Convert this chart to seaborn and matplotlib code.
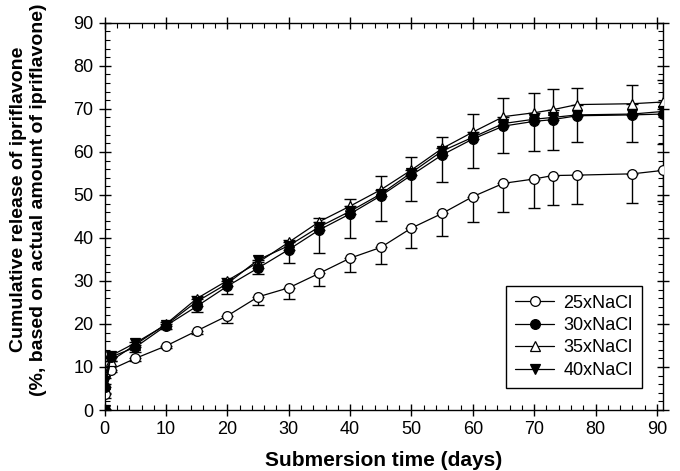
import numpy as np
import pandas as pd
import matplotlib
matplotlib.use("Agg")
import matplotlib.pyplot as plt
import seaborn as sns
from matplotlib.ticker import MultipleLocator

# submersion time (days)
days = [0, 0.08, 1, 5, 10, 15, 20, 25, 30, 35, 40, 45, 50, 55, 60, 65, 70, 73, 77, 86, 91]

nacl25 = [0, 3.7, 9.4, 12.0, 14.9, 18.4, 21.9, 26.3, 28.4, 31.8, 35.3, 37.8,
          42.3, 45.7, 49.6, 52.7, 53.7, 54.5, 54.6, 54.9, 55.7]
nacl30 = [0, 5.4, 12.3, 14.6, 19.6, 24.1, 28.8, 33.0, 37.3, 41.9, 45.6, 49.8,
          54.6, 59.3, 63.0, 66.0, 67.1, 67.5, 68.4, 68.6, 68.8]
nacl35 = [0, 6.0, 11.4, 15.2, 20.0, 25.9, 30.1, 34.3, 39.0, 43.8, 47.4, 51.2,
          55.8, 60.8, 64.6, 68.2, 69.1, 69.8, 71.0, 71.2, 71.6]
nacl40 = [0, 6.8, 12.6, 15.6, 19.8, 25.2, 29.4, 34.9, 38.2, 42.6, 46.2, 50.2,
          55.2, 60.2, 63.4, 66.6, 67.6, 68.0, 68.6, 68.8, 69.4]

# error bars (one sided as in the original figure)
err25_down = [0, 1.0, 0.5, 0.6, 0.6, 0.8, 1.6, 2.0, 2.5, 2.9, 3.3, 3.9,
              4.7, 5.2, 6.0, 6.6, 6.7, 6.8, 6.8, 6.8, 7.0]
err30_down = [0, 1.5, 1.0, 1.0, 0.8, 1.4, 1.8, 1.4, 3.1, 5.3, 5.5, 5.8,
              6.1, 6.2, 6.8, 6.3, 6.9, 7.1, 6.0, 6.4, 6.9]
err35_up = [0, 1.5, 1.0, 0.5, 0.5, 0.5, 0.5, 0.6, 0.6, 0.8, 1.6, 3.1,
            3.0, 2.7, 4.1, 4.4, 4.7, 4.9, 3.9, 4.3, 5.2]

df = pd.DataFrame({"days": days, "25xNaCl": nacl25, "30xNaCl": nacl30,
                   "35xNaCl": nacl35, "40xNaCl": nacl40})

sns.set_style("ticks")
plt.rcParams["font.family"] = ["Liberation Sans", "DejaVu Sans"]
plt.rcParams["text.color"] = "black"
plt.rcParams["axes.labelcolor"] = "black"
plt.rcParams["xtick.color"] = "black"
plt.rcParams["ytick.color"] = "black"

fig = plt.figure(figsize=(6.8, 4.71), dpi=100)
ax = fig.add_axes([0.154, 0.1295, 0.821, 0.822])

zeros = np.zeros(len(days))
ax.errorbar(days, nacl25, yerr=[err25_down, zeros], fmt="none", ecolor="black",
            elinewidth=1.0, capsize=4, capthick=1.0, zorder=1)
ax.errorbar(days, nacl30, yerr=[err30_down, zeros], fmt="none", ecolor="black",
            elinewidth=1.0, capsize=4, capthick=1.0, zorder=1)
ax.errorbar(days, nacl35, yerr=[zeros, err35_up], fmt="none", ecolor="black",
            elinewidth=1.0, capsize=4, capthick=1.0, zorder=1)

series = [
    ("25xNaCl", "o", "white"),
    ("35xNaCl", "^", "white"),
    ("40xNaCl", "v", "black"),
    ("30xNaCl", "o", "black"),
]
for name, mk, fc in series:
    sns.lineplot(data=df, x="days", y=name, ax=ax, color="black", lw=0.9,
                 marker=mk, markersize=7, markerfacecolor=fc,
                 markeredgecolor="black", markeredgewidth=0.9, label=name,
                 zorder=3)

ax.set_xlim(0, 91)
ax.set_ylim(0, 90)
ax.xaxis.set_major_locator(MultipleLocator(10))
ax.xaxis.set_minor_locator(MultipleLocator(2))
ax.yaxis.set_major_locator(MultipleLocator(10))
ax.yaxis.set_minor_locator(MultipleLocator(2))
ax.tick_params(which="major", direction="inout", length=8, width=1,
               top=True, right=True, labelsize=13, pad=4, color="black",
               labelcolor="black")
ax.tick_params(which="minor", direction="in", length=3.5, width=0.8,
               top=True, right=True, color="black")
for sp in ax.spines.values():
    sp.set_linewidth(1.0)
    sp.set_color("black")

ax.set_xlabel("Submersion time (days)", fontsize=15, fontweight="bold", labelpad=9)
ax.set_ylabel("Cumulative release of ipriflavone\n(%, based on actual amount of ipriflavone)",
              fontsize=14, fontweight="bold")
ax.yaxis.set_label_coords(-0.104, 0.543)

handles, labels = ax.get_legend_handles_labels()
order = [labels.index(n) for n in ["25xNaCl", "30xNaCl", "35xNaCl", "40xNaCl"]]
leg = ax.legend([handles[i] for i in order], [labels[i] for i in order],
                loc="lower right", bbox_to_anchor=(0.962, 0.057), fontsize=13,
                frameon=True, fancybox=False, framealpha=1, edgecolor="black",
                handlelength=2.2, handletextpad=0.5, labelspacing=0.3,
                borderpad=0.5, borderaxespad=0)
leg.get_frame().set_linewidth(1.0)

fig.savefig("out.png", dpi=100)
